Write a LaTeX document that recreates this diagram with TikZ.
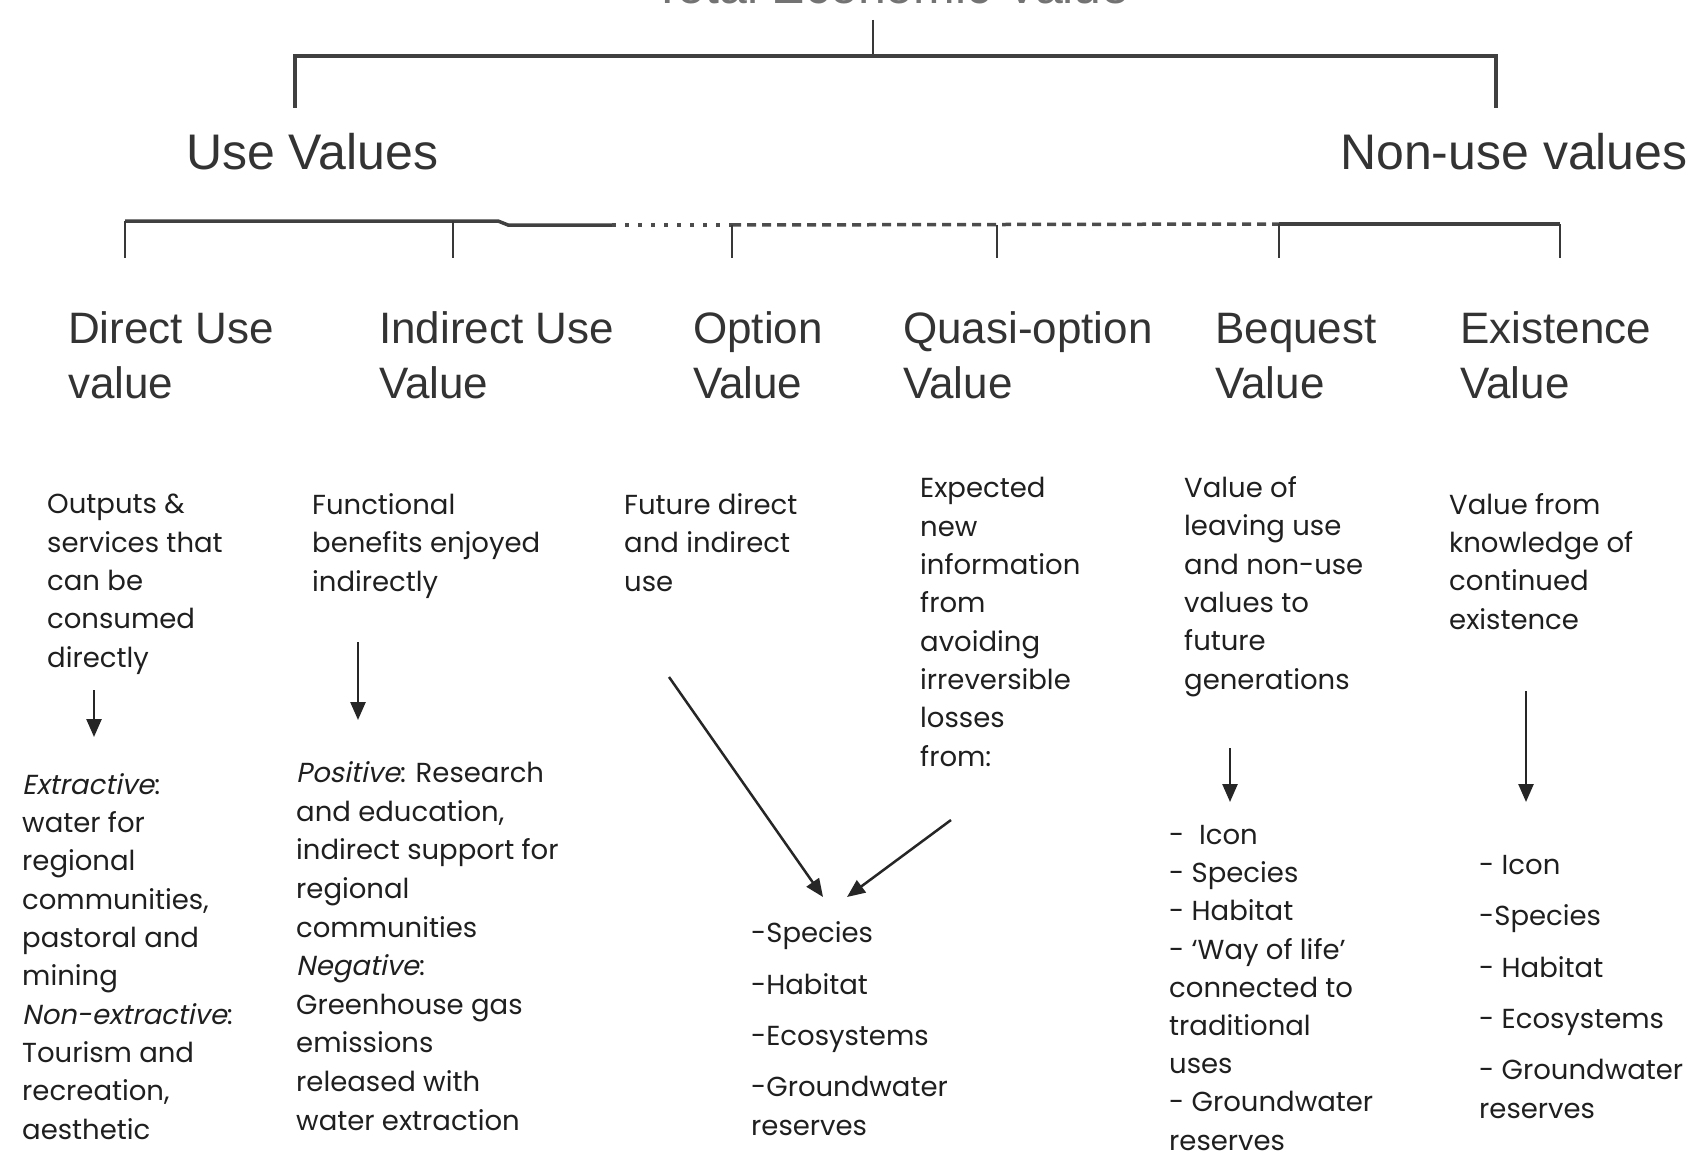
\documentclass[tikz,border=0pt]{standalone}
\usepackage{fontspec}
\setmainfont{Liberation Sans}
\newfontfamily\descfont{Poppins}
\newfontfamily\descslant{Poppins}[FakeSlant=0.2]
\usetikzlibrary{arrows.meta}

\begin{document}
% multi-line nodes are placed by the baseline of their last line (anchor=base west)
\begin{tikzpicture}[x=1pt,y=-1pt,
  title/.style={font=\fontsize{50}{60}\selectfont, anchor=base, inner sep=0pt, text=black!55},
  branch/.style={font=\fontsize{50}{60}\selectfont, anchor=base west, inner sep=0pt, text=black!80},
  heading/.style={font=\fontsize{44}{55}\selectfont, align=left, anchor=base west, inner sep=0pt, text=black!80},
  desc/.style={font=\descfont\fontsize{27.5}{38.3}\selectfont, align=left, anchor=base west, inner sep=0pt, text=black!88},
  bar/.style={line width=3.5pt, draw=black!75},
  tick/.style={line width=2.8pt, draw=black!78},
  dotline/.style={line width=3.5pt, dash pattern=on 4pt off 9pt, draw=black!70},
  dashline/.style={line width=3.5pt, dash pattern=on 9pt off 6pt, draw=black!70},
  down/.style={line width=2.5pt, draw=black!85, -{Triangle[length=18pt,width=15pt]}},
]
\useasboundingbox (0,0) rectangle (1699,1161);
\fill[white] (0,0) rectangle (1699,1161);

% top level
\node[title] (tev) at (891,4) {Total Economic Value};
\coordinate (tevfoot) at (873,20);
\coordinate (tevbar) at (873,56);
\coordinate (usebar) at (295,56);
\coordinate (nonbar) at (1496,56);
\coordinate (usetop) at (295,108);
\coordinate (nontop) at (1496,108);
\draw[tick] (tevfoot) -- (tevbar);
\draw[bar] (usetop) -- (usebar) -- (nonbar) -- (nontop);

\node[branch] (use) at (186,170) {Use Values};
\node[branch] (nonuse) at (1340,170) {Non-use values};

% second level bracket
\coordinate (b1) at (125,221);
\coordinate (b2) at (453,221);
\coordinate (jogA) at (498,221);
\coordinate (jogB) at (508,225);
\coordinate (dotA) at (612,225);
\coordinate (b3) at (732,225);
\coordinate (b4) at (997,225);
\coordinate (b5) at (1279,224);
\coordinate (b6) at (1560,224);
\draw[bar] (b1) -- (jogA) -- (jogB) -- (dotA);
\draw[dotline] (dotA) -- (b3);
\draw[dashline] (b3) -- (b5);
\draw[bar] (b5) -- (b6);
\foreach \c/\x in {b1/125,b2/453,b3/732,b4/997,b5/1279,b6/1560}
  \draw[tick] (\c) -- (\x,258);

% value types
\node[heading] (direct)    at (68,398)   {Direct Use\\value};
\node[heading] (indirect)  at (379,398)  {Indirect Use\\Value};
\node[heading] (option)    at (693,398)  {Option\\Value};
\node[heading] (quasi)     at (903,398)  {Quasi-option\\Value};
\node[heading] (bequest)   at (1215,398) {Bequest\\Value};
\node[heading] (existence) at (1460,398) {Existence\\Value};

% definitions
\node[desc] (ddirect)    at (47,667)    {Outputs \&\\services that\\can be\\consumed\\directly};
\node[desc] (dindirect)  at (312,591)   {Functional\\benefits enjoyed\\indirectly};
\node[desc] (doption)    at (624,591)   {Future direct\\and indirect\\use};
\node[desc] (dquasi)     at (920,766)   {Expected\\new\\information\\from\\avoiding\\irreversible\\losses\\from:};
\node[desc] (dbequest)   at (1184,689)  {Value of\\leaving use\\and non-use\\values to\\future\\generations};
\node[desc] (dexistence) at (1449,629)  {Value from\\knowledge of\\continued\\existence};

% examples
\node[desc] (edirect) at (22,1139) {{\descslant Extractive}:\\water for\\regional\\communities,\\pastoral and\\mining\\{\descslant Non-extractive}:\\Tourism and\\recreation,\\aesthetic};
\node[desc, font=\descfont\fontsize{27.5}{38.6}\selectfont] (eindirect) at (296,1130) {{\descslant Positive}: Research\\and education,\\indirect support for\\regional\\communities\\{\descslant Negative}:\\Greenhouse gas\\emissions\\released with\\water extraction};
\node[desc] (eshared) at (751,1135) {-Species\\[13pt]-Habitat\\[13pt]-Ecosystems\\[13pt]-Groundwater\\reserves};
\node[desc, font=\descfont\fontsize{27.5}{38.2}\selectfont] (ebequest) at (1169,1150) {-\ \ Icon\\- Species\\- Habitat\\- ‘Way of life’\\connected to\\traditional\\uses\\- Groundwater\\reserves};
\node[desc] (eexistence) at (1479,1118) {- Icon\\[13pt]-Species\\[13pt]- Habitat\\[13pt]- Ecosystems\\[13pt]- Groundwater\\reserves};

% arrows from definitions to examples
\coordinate (adirectA) at (94,690);     \coordinate (adirectB) at (94,737);
\coordinate (aindirA) at (358,642);     \coordinate (aindirB) at (358,720);
\coordinate (aoptA) at (669,677);       \coordinate (aoptB) at (823,897);
\coordinate (aquasiA) at (951,820);     \coordinate (aquasiB) at (847,897);
\coordinate (abeqA) at (1230,748);      \coordinate (abeqB) at (1230,802);
\coordinate (aexA) at (1526,691);       \coordinate (aexB) at (1526,802);
\draw[down] (adirectA) -- (adirectB);
\draw[down] (aindirA) -- (aindirB);
\draw[down] (aoptA) -- (aoptB);
\draw[down] (aquasiA) -- (aquasiB);
\draw[down] (abeqA) -- (abeqB);
\draw[down] (aexA) -- (aexB);
\end{tikzpicture}
\end{document}
